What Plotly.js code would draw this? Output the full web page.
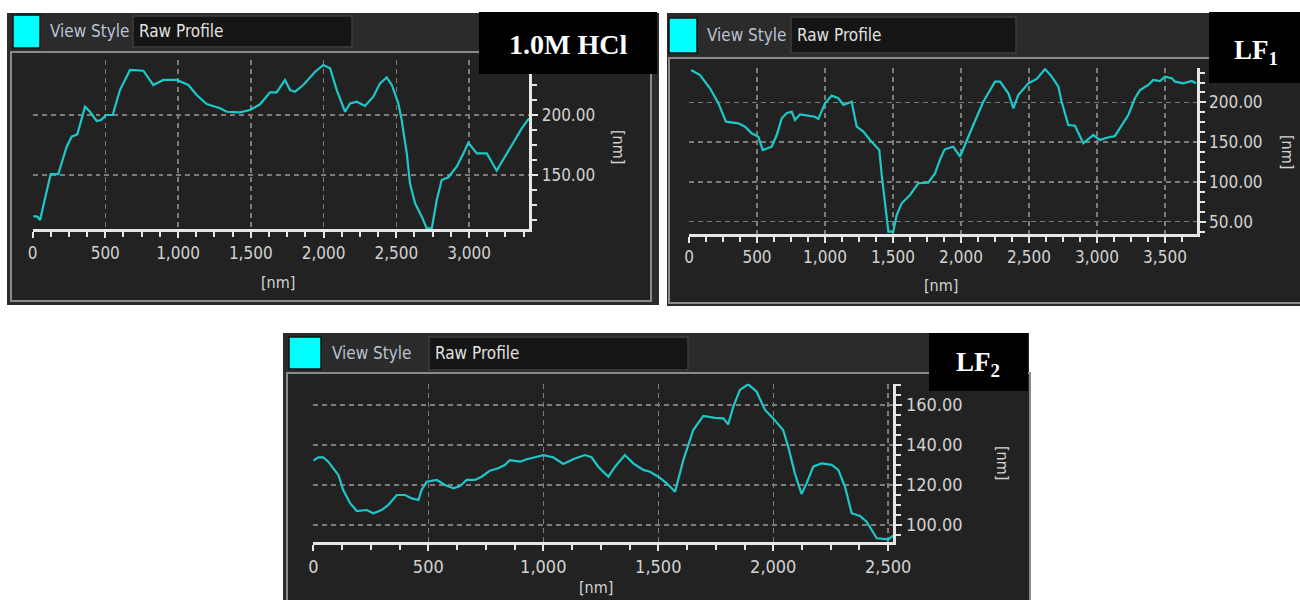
<!DOCTYPE html>
<html><head><meta charset="utf-8">
<script src="https://cdn.plot.ly/plotly-3.0.1.min.js"></script>
<style>html,body{margin:0;padding:0;background:#fff}#chart{width:1300px;height:600px}</style>
</head><body><div id="chart"></div>
<script>
// ---- data ----
const hclX = [5,33,52,74,125,177,235,269,308,361,395,441,471,505,551,601,670,762,830,899,991,1071,1128,1197,1289,1335,1426,1495,1564,1632,1678,1735,1770,1804,1861,1942,1999,2045,2091,2148,2182,2228,2285,2342,2388,2434,2469,2514,2537,2572,2594,2629,2675,2709,2744,2778,2812,2858,2915,2961,2995,3053,3122,3190,3247,3304,3362,3412];
const hclY = [115.8,115.3,112.5,123.6,150.8,150.8,173.6,181.9,183.9,206.9,202.7,195,195.8,200,200,220.8,237.5,236.9,225,229.2,229.2,225,216.7,209.2,205.6,202.7,202.2,204.2,208.9,218.9,218.9,229.2,220.8,219.4,225,236.1,241.7,238.9,220.8,202.7,209.7,211.1,207.5,215.3,226.4,231.4,225,209.7,195.8,168,143.1,126.4,115.3,105.6,105.6,129.2,145.8,148.1,156.9,168,176.9,168,168,153.6,165.3,176.4,188.9,197.2];

const lf1X = [15,81,154,216,272,363,412,461,510,542,608,645,682,718,755,779,816,877,926,951,1000,1049,1098,1135,1160,1196,1233,1282,1331,1380,1399,1417,1441,1466,1502,1527,1564,1625,1686,1760,1809,1850,1880,1943,1993,2042,2090,2164,2250,2287,2348,2385,2421,2495,2557,2618,2667,2716,2740,2789,2838,2899,2973,3022,3071,3132,3193,3230,3279,3316,3377,3414,3463,3500,3549,3574,3635,3696,3728];
const lf1Y = [240.8,234.5,217.8,198.9,175.8,173.7,169.5,161.2,156.9,140.2,144.3,159,180,186.3,188.3,177.9,185,183.3,182,179.2,198.9,208.5,205.2,196.8,198.9,200.9,169.5,163.2,152.7,144.3,140.2,108.7,71,37.4,37.4,58.4,73.1,83.6,98.3,99,110.9,130,141,144.3,131.7,152.7,171.6,200.9,226.1,226.1,211.5,192.6,209.3,224,229.5,242,232.4,219.8,200.9,171.6,170.7,148.6,159,152.7,155.6,157.8,173.7,184.2,205.2,215.6,221.9,228.2,226.9,232.4,230.4,226.1,224,226.9,224];

const lf2X = [0,22,43,65,87,109,130,160,189,232,261,297,326,363,399,428,457,471,493,537,573,609,638,667,703,732,768,804,833,855,899,928,964,1000,1043,1087,1130,1181,1210,1239,1283,1312,1355,1391,1435,1464,1500,1537,1573,1609,1652,1696,1747,1783,1804,1826,1855,1891,1928,1964,2000,2043,2065,2094,2123,2145,2174,2210,2254,2283,2312,2341,2377,2406,2450,2500,2522];
const lf2Y = [132.1,133.8,133.8,131.6,128.3,125,117.5,110.9,107,107.5,105.9,107.5,110,115,115,113.3,112.5,117.5,121.6,122.5,120,118.3,119.5,122.5,122.5,124.1,127.1,128.3,129.9,132.4,131.6,132.8,133.8,134.9,133.8,130.5,132.8,134.9,133.8,129.1,124.1,129.1,134.9,130.8,127.5,126.6,124.1,120.8,116.6,132.4,147.4,154.4,153.5,153.2,150.2,159,167.4,170.2,166.5,157.4,153.2,147.4,139.1,125.8,115.5,120.8,129.1,130.8,130,127.5,119.1,105.9,104.5,101.7,93.4,92.9,94.7];

const panelLabels = ['1.0M HCl', 'LF<sub>1</sub>', 'LF<sub>2</sub>'];
const headerLabel = 'View Style';
const styleValue = 'Raw Profile';
const unitLabel = '[nm]';

// ---- helpers (pixel -> paper) ----
const W = 1300, H = 600;
const px = v => v / W;
const py = v => 1 - v / H;

const LINE = '#1ec8c8';
const GRID = '#7c7c7c';
const AXC = '#e6e6e6';
const TXT = '#d2d2d2';
const NARROW = "'Liberation Sans Narrow','Arial Narrow','DejaVu Sans Condensed',sans-serif";

function xAxis(domain, range, anchor, fs) {
  return {
    domain, range, anchor, showline: true, linecolor: AXC, linewidth: 3,
    ticks: 'outside', ticklen: 6, tickwidth: 2, tickcolor: AXC, dtick: 500, tick0: 0,
    tickformat: ',d', showgrid: true, gridcolor: GRID, gridwidth: 1.5, griddash: '5px,4px',
    zeroline: false, fixedrange: true, ticklabelstandoff: 0,
    minor: {dtick: 125, tick0: 0, ticks: 'outside', ticklen: 5, tickwidth: 2, tickcolor: AXC, showgrid: false},
    tickfont: {family: NARROW, size: fs, color: TXT}
  };
}
function yAxis(domain, range, anchor, dtick, minorDtick, fs) {
  return {
    domain, range, anchor, side: 'right', showline: true, linecolor: AXC, linewidth: 3,
    ticks: 'outside', ticklen: 6, tickwidth: 2, tickcolor: AXC, dtick, tick0: 0,
    tickformat: '.2f', showgrid: true, gridcolor: GRID, gridwidth: 1.5, griddash: '5px,4px',
    zeroline: false, fixedrange: true,
    minor: {dtick: minorDtick, tick0: 0, ticks: 'outside', ticklen: 5, tickwidth: 2, tickcolor: AXC, showgrid: false},
    tickfont: {family: NARROW, size: fs, color: TXT}
  };
}

const traces = [
  {x: hclX, y: hclY, xaxis: 'x', yaxis: 'y', type: 'scatter', mode: 'lines', line: {color: LINE, width: 2.2}, hoverinfo: 'skip'},
  {x: lf1X, y: lf1Y, xaxis: 'x2', yaxis: 'y2', type: 'scatter', mode: 'lines', line: {color: LINE, width: 2.2}, hoverinfo: 'skip'},
  {x: lf2X, y: lf2Y, xaxis: 'x3', yaxis: 'y3', type: 'scatter', mode: 'lines', line: {color: LINE, width: 2.2}, hoverinfo: 'skip'}
];

function rect(x0, y0, x1, y1, fill, line, lw, layer) {
  return {type: 'rect', xref: 'paper', yref: 'paper', x0: px(x0), x1: px(x1), y0: py(y1), y1: py(y0),
    fillcolor: fill, line: {color: line || 'rgba(0,0,0,0)', width: lw || 0}, layer: layer || 'below'};
}

const shapes = [
  // panel 1
  rect(7, 13, 659, 305, '#2b2b2b'),
  rect(11, 52, 651, 301, '#222222', '#8a8a8a', 2),
  rect(13, 15, 40, 48, '#00ffff', '#151515', 1.5),
  rect(133, 16, 352, 47, '#151515', '#3c3c3c', 1.5),
  // panel 2
  rect(667, 13, 1300, 306, '#2b2b2b'),
  rect(669, 58, 1301, 303, '#222222', '#8a8a8a', 2),
  rect(669, 18, 697, 53, '#00ffff', '#151515', 1.5),
  rect(791, 17, 1016, 53, '#151515', '#3c3c3c', 1.5),
  // panel 3
  rect(283, 333, 1029, 601, '#2b2b2b'),
  rect(287, 373, 1030, 603, '#222222', '#8a8a8a', 2),
  rect(289, 337, 321, 369, '#00ffff', '#151515', 1.5),
  rect(429, 337, 688, 370, '#151515', '#3c3c3c', 1.5),
  // label boxes (on top)
  rect(479, 12, 657, 74, '#000000', null, 0, 'above'),
  rect(1209, 12, 1301, 83, '#000000', null, 0, 'above'),
  rect(929, 333, 1028, 391, '#000000', null, 0, 'above')
];

function txt(x, y, text, opts) {
  return Object.assign({xref: 'paper', yref: 'paper', x: px(x), y: py(y), text, showarrow: false,
    xanchor: 'center', yanchor: 'middle'}, opts);
}
const hdrFont = {family: NARROW, size: 17, color: '#b9c2d2'};
const rpFont = {family: NARROW, size: 17, color: '#e2e2e2'};
const unitFont = {family: NARROW, size: 16, color: TXT};
const lblFont = {family: "'Liberation Serif','Times New Roman',serif", size: 28, color: '#ffffff', weight: 'bold'};

const annotations = [
  txt(48, 31, headerLabel, {xanchor: 'left', font: hdrFont}),
  txt(137, 31, styleValue, {xanchor: 'left', font: rpFont}),
  txt(705, 35, headerLabel, {xanchor: 'left', font: hdrFont}),
  txt(795, 35, styleValue, {xanchor: 'left', font: rpFont}),
  txt(330, 353, headerLabel, {xanchor: 'left', font: hdrFont}),
  txt(433, 353, styleValue, {xanchor: 'left', font: rpFont}),

  txt(278, 282, unitLabel, {font: unitFont}),
  txt(619, 147, unitLabel, {font: unitFont, textangle: 90}),
  txt(941, 285, unitLabel, {font: unitFont}),
  txt(1288, 152, unitLabel, {font: unitFont, textangle: 90}),
  txt(596, 587, unitLabel, {font: unitFont}),
  txt(1002, 463, unitLabel, {font: unitFont, textangle: 90}),

  txt(568, 45, '<b>' + panelLabels[0] + '</b>', {font: lblFont}),
  txt(1256, 52, '<b>' + panelLabels[1] + '</b>', {font: Object.assign({}, lblFont, {size: 27})}),
  txt(978, 364, '<b>' + panelLabels[2] + '</b>', {font: Object.assign({}, lblFont, {size: 27})})
];

const layout = {
  width: W, height: H, margin: {l: 0, r: 0, t: 0, b: 0, pad: 0},
  paper_bgcolor: '#ffffff', plot_bgcolor: 'rgba(0,0,0,0)', showlegend: false,
  xaxis: xAxis([px(32.5), px(529.3)], [0, 3414], 'y', 17),
  yaxis: yAxis([py(229.3), py(59.8)], [104.75, 246], 'x', 50, 12.5, 17),
  xaxis2: xAxis([px(689), px(1196.7)], [0, 3733], 'y2', 17),
  yaxis2: yAxis([py(234), py(68.3)], [34.5, 242.9], 'x2', 50, 12.5, 17),
  xaxis3: xAxis([px(313.3), px(893.3)], [0, 2522], 'y3', 18),
  yaxis3: yAxis([py(542.3), py(383.7)], [91.4, 170.5], 'x3', 20, 5, 18),
  shapes, annotations
};

Plotly.newPlot('chart', traces, layout, {displayModeBar: false, staticPlot: true});
</script>
</body></html>
